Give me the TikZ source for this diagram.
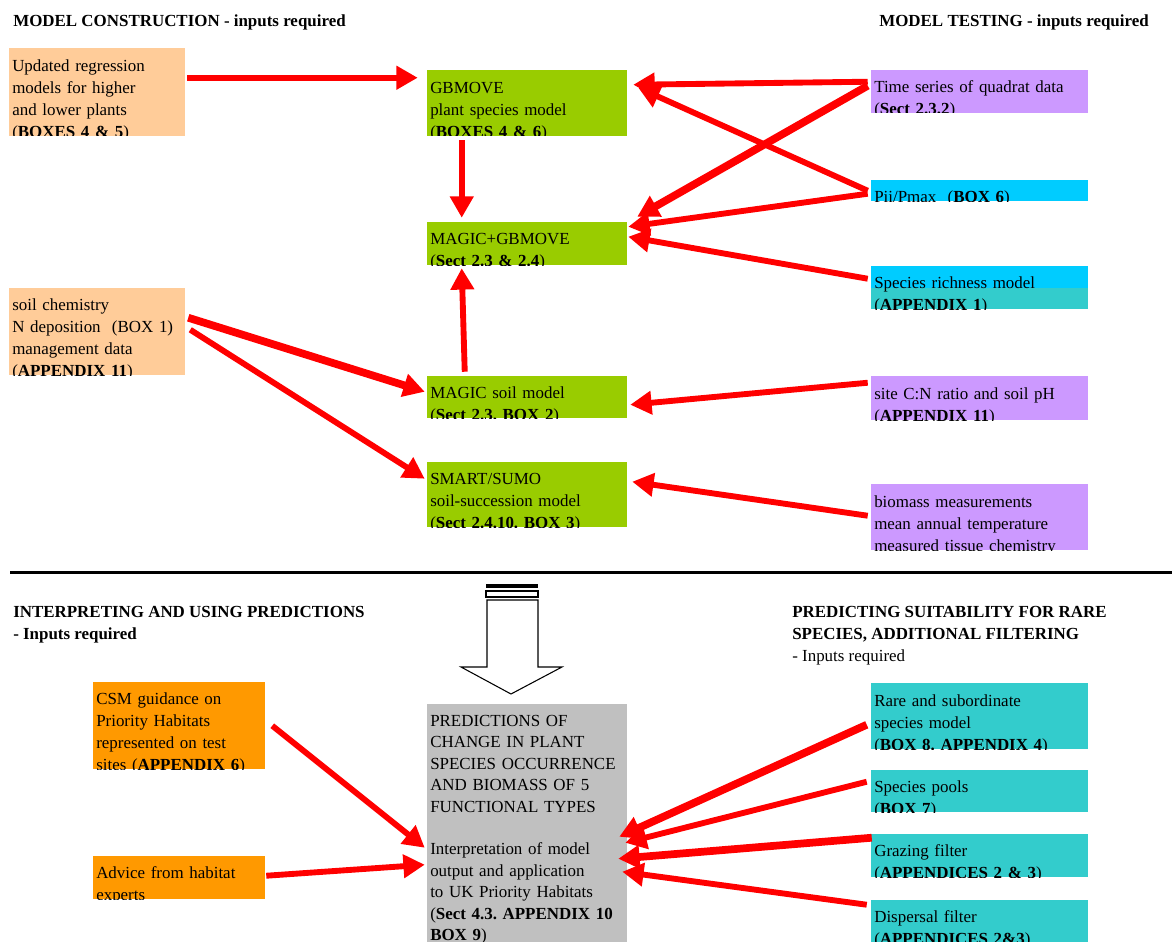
\documentclass[tikz,border=0pt]{standalone}
\usepackage{fontspec}
\setmainfont{Liberation Serif}
\usetikzlibrary{arrows.meta,fit}

\definecolor{peach}{HTML}{FFCC99}
\definecolor{leaf}{HTML}{99CC00}
\definecolor{lilac}{HTML}{CC99FF}
\definecolor{sky}{HTML}{00CCFF}
\definecolor{aqua}{HTML}{33CCCC}
\definecolor{amber}{HTML}{FF9900}
\definecolor{silver}{HTML}{C0C0C0}

\newcommand{\diagfont}{\fontsize{12.7}{16.5}\selectfont}
\frenchspacing

\tikzset{
	boxlabel/.style={anchor=north west, inner sep=0pt, align=left},
	inbox/.style={inner sep=0pt, fill=#1},
	boxtext/.style={path picture={\node[boxlabel] at ([shift={(3,14)}]path picture bounding box.north west) {#1};}},
	link/.style={draw=red, line width=4.4pt, -{Triangle[length=16pt,width=17pt]}},
	heavylink/.style={link, line width=5.8pt},
	heading/.style={inner sep=0pt, align=left, font=\diagfont\bfseries},
}

\begin{document}
\begin{tikzpicture}[x=0.75pt, y=-0.75pt, font=\diagfont]
		\useasboundingbox (0,0) rectangle (1172,942);
%		\draw[help lines] (0,0) grid[step=50] (1172,942);

		\node[heading, anchor=base west] (construction) at (13,27) {MODEL CONSTRUCTION - inputs required};
		\node[heading, anchor=base east] (testing) at (1149,27) {MODEL TESTING - inputs required};
		\node[heading, anchor=north west] (interpreting) at (13,606) {INTERPRETING AND USING PREDICTIONS\\- Inputs required};
		\node[heading, anchor=north west] (suitability) at (792,606) {PREDICTING SUITABILITY FOR RARE\\SPECIES, ADDITIONAL FILTERING\\\mdseries - Inputs required};

		\node[inbox=peach, fit={(9,48) (185,136)}, boxtext={Updated regression\\models for higher\\and lower plants\\(\textbf{BOXES 4 \& 5})}] (regr) {};
		\node[inbox=peach, fit={(9,288) (185,375)}, boxtext={soil chemistry\\N deposition~ (BOX 1)\\management data\\(\textbf{APPENDIX 11})}] (soil) {};

		\node[inbox=leaf, fit={(427,70) (627,136)}, boxtext={GBMOVE\\plant species model\\(\textbf{BOXES 4 \& 6})}] (gbmove) {};
		\node[inbox=leaf, fit={(427,222) (627,265)}, boxtext={MAGIC+GBMOVE\\(\textbf{Sect 2.3 \& 2.4})}] (magicgb) {};
		\node[inbox=leaf, fit={(427,376) (627,418)}, boxtext={MAGIC soil model\\(\textbf{Sect 2.3. BOX 2})}] (magicsoil) {};
		\node[inbox=leaf, fit={(427,462) (627,527)}, boxtext={SMART/SUMO\\soil-succession model\\(\textbf{Sect 2.4.10. BOX 3})}] (smart) {};

		\node[inbox=lilac, fit={(871,70) (1088,113)}, boxtext={Time series of quadrat data\\(\textbf{Sect 2.3.2})}] (timeser) {};
		\node[inbox=sky, fit={(871,180) (1088,201)}, boxtext={Pii/Pmax~ (\textbf{BOX 6})}] (pii) {};
		\node[inbox=sky, fit={(871,266) (1088,309)}, path picture={
			\fill[aqua] (path picture bounding box.west) rectangle (path picture bounding box.south east);
			\node[boxlabel] at ([shift={(3,14)}]path picture bounding box.north west) {Species richness model\\(\textbf{APPENDIX 1})};}] (richness) {};
		\node[inbox=lilac, fit={(871,376) (1088,420)}, boxtext={site C:N ratio and soil pH\\(\textbf{APPENDIX 11})}] (cn) {};
		\node[inbox=lilac, fit={(871,484) (1088,550)}, boxtext={biomass measurements\\mean annual temperature\\measured tissue chemistry}] (biomass) {};

		\draw[line width=2.6pt] (10,572.5) -- (1172,572.5);

		\fill (486,584) rectangle (538,587.5);
		\draw[line width=0.8pt] (486,591) rectangle (538,597);
		\draw[line width=0.8pt, fill=white] (487,600) -- (538,600) -- (538,667) -- (562,667) -- (511,694) -- (461,667) -- (487,667) -- cycle;

		\node[inbox=amber, fit={(93,682) (265,769)}, boxtext={CSM guidance on\\Priority Habitats\\represented on test\\sites (\textbf{APPENDIX 6})}] (csm) {};
		\node[inbox=amber, fit={(93,856) (265,899)}, boxtext={Advice from habitat\\experts}] (advice) {};
		\node[inbox=silver, fit={(427,704) (627,942)}, path picture={
			\node[boxlabel, font=\fontsize{12.7}{16.1}\selectfont] at ([shift={(3,12)}]path picture bounding box.north west) {PREDICTIONS OF\\CHANGE IN PLANT\\SPECIES OCCURRENCE\\AND BIOMASS OF 5\\FUNCTIONAL TYPES\\[16.1pt]Interpretation of model\\output and application\\to UK Priority Habitats\\(\textbf{Sect 4.3. APPENDIX 10}\\\textbf{BOX 9})};}] (pred) {};

		\node[inbox=aqua, fit={(871,683) (1088,749)}, boxtext={Rare and subordinate\\species model\\(\textbf{BOX 8. APPENDIX 4})}] (rare) {};
		\node[inbox=aqua, fit={(871,770) (1088,812)}, boxtext={Species pools\\(\textbf{BOX 7})}] (pools) {};
		\node[inbox=aqua, fit={(871,834) (1088,877)}, boxtext={Grazing filter\\(\textbf{APPENDICES 2 \& 3})}] (grazing) {};
		\node[inbox=aqua, fit={(871,900) (1088,942)}, boxtext={Dispersal filter\\(\textbf{APPENDICES 2\&3})}] (dispersal) {};

		\draw[link] ([shift={(2,30)}]regr.north east) -- ([shift={(-9,8)}]gbmove.north west);
		\draw[link] ([shift={(35,4)}]gbmove.south west) -- ([shift={(35,-4)}]magicgb.north west);
		\draw[link] ([shift={(38,-4)}]magicsoil.north west) -- ([shift={(35,3)}]magicgb.south west);
		\draw[heavylink] ([shift={(3,30)}]soil.north east) -- ([shift={(-2,16)}]magicsoil.north west);
		\draw[link] ([shift={(5,42)}]soil.north east) -- ([shift={(-2,17)}]smart.north west);

		\draw[link] ([shift={(-3,12)}]timeser.north west) -- ([shift={(6,15)}]gbmove.north east);
		\draw[heavylink] ([shift={(-3,16)}]timeser.north west) -- ([shift={(10,-5)}]magicgb.north east);
		\draw[link] ([shift={(-3,11)}]pii.north west) -- ([shift={(11,18)}]gbmove.north east);
		\draw[link] ([shift={(-3,14)}]pii.north west) -- ([shift={(1,5)}]magicgb.north east);
		\draw[link] ([shift={(-3,13)}]richness.north west) -- ([shift={(1,15)}]magicgb.north east);
		\draw[link] ([shift={(-3,7)}]cn.north west) -- ([shift={(3,29)}]magicsoil.north east);
		\draw[link] ([shift={(-3,32)}]biomass.north west) -- ([shift={(5,20)}]smart.north east);

		\draw[link] ([shift={(7,44)}]csm.north east) -- ([shift={(-2,144)}]pred.north west);
		\draw[link] ([shift={(1,20)}]advice.north east) -- ([shift={(-2,161)}]pred.north west);
		\draw[heavylink] ([shift={(-4,42)}]rare.north west) -- ([shift={(-8,133)}]pred.north east);
		\draw[link] ([shift={(-4,12)}]pools.north west) -- ([shift={(-2,139)}]pred.north east);
		\draw[heavylink] ([shift={(1,4)}]grazing.north west) -- ([shift={(-9,155)}]pred.north east);
		\draw[link] ([shift={(-4,5)}]dispersal.north west) -- ([shift={(-5,168)}]pred.north east);
	\end{tikzpicture}
\end{document}
